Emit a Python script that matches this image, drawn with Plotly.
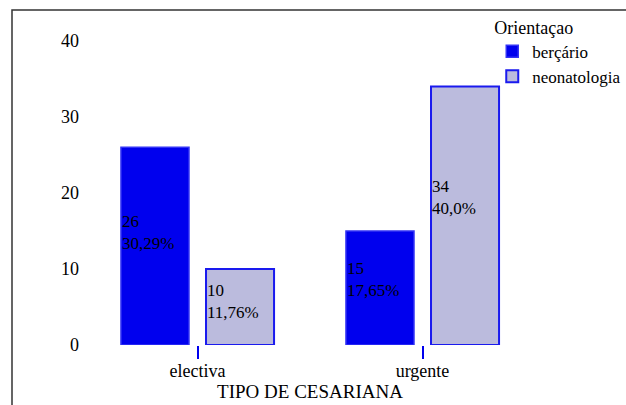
import plotly.graph_objects as go

categories = ["electiva", "urgente"]
series_names = ["berçário", "neonatologia"]
bercario = [26, 15]
neonatologia = [10, 34]
bercario_pct = ["30,29%", "17,65%"]
neonatologia_pct = ["11,76%", "40,0%"]
y_ticks = [0, 10, 20, 30, 40]

FONT = "Times New Roman, Liberation Serif, Times, serif"
W, H = 626, 405
ML, MR, MT, MB = 85, 91, 37, 60
BARGAP = 0.244
BARGROUPGAP = 0.2

fig = go.Figure()
fig.add_trace(go.Bar(
    x=categories, y=bercario, name=series_names[0],
    marker=dict(color="#0000EE", line=dict(color="#3333F5", width=1.5)),
))
fig.add_trace(go.Bar(
    x=categories, y=neonatologia, name=series_names[1],
    marker=dict(color="#BBBBDD", line=dict(color="#1A1AEE", width=2)),
))

# in-bar labels, left-aligned inside each bar
slot = (1 - BARGAP) / 2
half_bar = slot * (1 - BARGROUPGAP) / 2
annotations = []
for s, (vals, pcts) in enumerate([(bercario, bercario_pct), (neonatologia, neonatologia_pct)]):
    center_off = -slot / 2 if s == 0 else slot / 2
    for i, (v, p) in enumerate(zip(vals, pcts)):
        annotations.append(dict(
            x=i + center_off - half_bar, y=v * 0.57, xref="x", yref="y",
            text=f"{v}<br>{p}", showarrow=False, xanchor="left", yanchor="middle",
            align="left", xshift=-1,
            font=dict(family=FONT, size=17, color="black"),
        ))

fig.update_layout(
    width=W, height=H,
    margin=dict(l=ML, r=MR, t=MT, b=MB, autoexpand=False),
    paper_bgcolor="white", plot_bgcolor="white",
    barmode="group", bargap=BARGAP, bargroupgap=BARGROUPGAP,
    font=dict(family=FONT, size=17, color="black"),
    xaxis=dict(
        type="category", range=[-0.5, 1.5], automargin=False,
        showline=False, showgrid=False, zeroline=False,
        ticks="outside", ticklen=13, tickwidth=2, tickcolor="#0000EE",
        ticklabelstandoff=-4,
        tickfont=dict(family=FONT, size=18, color="black"),
        title=dict(text="TIPO DE CESARIANA", standoff=2,
                   font=dict(family=FONT, size=19, color="black")),
    ),
    yaxis=dict(
        range=[0, 40.5], tickvals=y_ticks, automargin=False,
        showline=False, showgrid=False, zeroline=False, ticks="",
        ticklabelstandoff=5,
        tickfont=dict(family=FONT, size=18, color="black"),
    ),
    legend=dict(
        title=dict(text="Orientaçao", font=dict(family=FONT, size=18, color="black")),
        x=0.905, y=1.087, xanchor="left", yanchor="top",
        bgcolor="rgba(0,0,0,0)", font=dict(family=FONT, size=17, color="black"),
        tracegroupgap=2, itemwidth=30,
    ),
    annotations=annotations,
    showlegend=True,
)

# outer frame
fig.add_shape(type="rect", xref="paper", yref="paper",
              x0=(12 - ML) / (W - ML - MR), x1=1.5,
              y0=-0.5, y1=(H - MB - 10) / (H - MT - MB),
              line=dict(color="#333333", width=1.5), layer="below")

fig.write_html("out.html", config={"displayModeBar": False},
               post_script="document.body.style.margin='0';document.body.style.padding='0';")
